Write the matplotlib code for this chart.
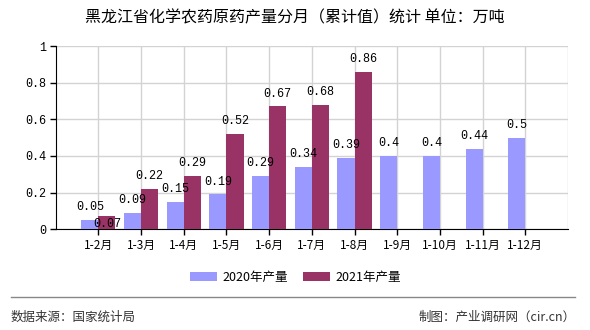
import numpy as np
import matplotlib.pyplot as plt

plt.rcParams['font.family'] = ['Noto Sans CJK SC', 'DejaVu Sans']

categories = ['1-2月', '1-3月', '1-4月', '1-5月', '1-6月', '1-7月',
              '1-8月', '1-9月', '1-10月', '1-11月', '1-12月']
y2020 = [0.05, 0.09, 0.15, 0.19, 0.29, 0.34, 0.39, 0.4, 0.4, 0.44, 0.5]
y2021 = [0.07, 0.22, 0.29, 0.52, 0.67, 0.68, 0.86]
yticks = [0, 0.2, 0.4, 0.6, 0.8, 1]
ytick_labels = ['0', '0.2', '0.4', '0.6', '0.8', '1']

c2020 = '#9999ff'
c2021 = '#993366'

fig = plt.figure(figsize=(5.9, 3.3), dpi=100)
ax = fig.add_axes([0.0944, 0.3052, 0.8683, 0.5554])

x = np.arange(len(categories))
w = 0.4
ax.bar(x - w / 2, y2020, width=w, color=c2020, label='2020年产量', zorder=3)
ax.bar(x[:len(y2021)] + w / 2, y2021, width=w, color=c2021, label='2021年产量', zorder=3)

mono = ['Liberation Mono', 'DejaVu Sans Mono']
for xi, v in zip(x, y2020):
    ax.annotate(str(v), (xi - w / 2, v), xytext=(0, 5), textcoords='offset points',
                ha='center', va='bottom', fontsize=8.5, family=mono, zorder=4)
for xi, v in zip(x, y2021):
    off = 5 if v > 0.1 else -10
    ax.annotate(str(v), (xi + w / 2, v), xytext=(0, off), textcoords='offset points',
                ha='center', va='bottom', fontsize=8.5, family=mono, zorder=4)

ax.set_xlim(-1, 11)
ax.set_ylim(0, 1)
ax.set_yticks(yticks)
ax.set_yticklabels(ytick_labels, family=mono, fontsize=8.5)
ax.set_xticks(x)
ax.set_xticklabels(categories, fontsize=8.5)
ax.grid(True, color='#d3d3d3', linewidth=1, zorder=0)
ax.axvline(11, color='#d3d3d3', linewidth=1, zorder=0)
for s in ['top', 'right']:
    ax.spines[s].set_visible(False)
ax.spines['left'].set_color('black')
ax.spines['bottom'].set_color('black')
ax.tick_params(axis='both', length=4, width=1, colors='black', pad=3)

fig.text(0.5, 0.945, '黑龙江省化学农药原药产量分月（累计值）统计 单位：万吨',
         ha='center', va='center', fontsize=11.5)
fig.legend(loc='center', bbox_to_anchor=(0.5, 0.16), ncol=2, frameon=False,
           fontsize=9, handlelength=2.2, handleheight=0.8, columnspacing=1.2,
           handletextpad=0.4)
fig.add_artist(plt.Line2D([0.018, 0.975], [0.10, 0.10], color='#888888', linewidth=1))
fig.text(0.018, 0.04, '数据来源：国家统计局', ha='left', va='center', fontsize=9, color='#333333')
fig.text(0.975, 0.04, '制图：产业调研网（cir.cn）', ha='right', va='center', fontsize=9, color='#333333')

fig.savefig('out.png', dpi=100)
